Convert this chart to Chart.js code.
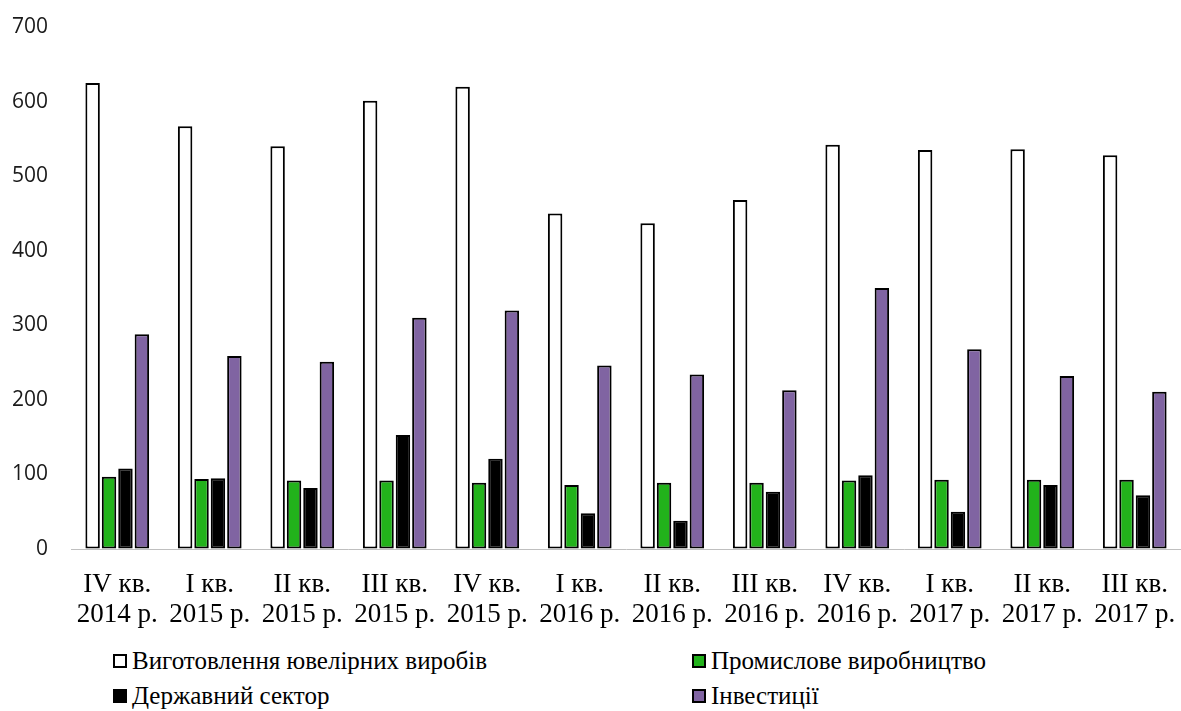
<!DOCTYPE html>
<html lang="uk">
<head>
<meta charset="utf-8">
<script src="https://cdn.jsdelivr.net/npm/chart.js@4"></script>
<style>
  html, body { margin: 0; padding: 0; background: #ffffff; }
  #wrap { position: relative; width: 1181px; height: 711px; }
  #box { position: absolute; left: 0; top: 0; width: 1181px; height: 630px; }
  #legend {
    position: absolute; left: 113px; top: 646px;
    display: grid; grid-template-columns: 579px auto; row-gap: 5px;
    font-family: "Liberation Serif", serif; font-size: 25px; color: #000;
  }
  .item { display: flex; align-items: center; height: 30px; white-space: nowrap; }
  .swatch { width: 10px; height: 10px; border: 2px solid #000; margin-right: 5px; }
</style>
</head>
<body>
<div id="wrap">
  <div id="box"><canvas id="chart"></canvas></div>
  <div id="legend"></div>
</div>
<script>
// Quarter labels (two lines each)
const quarters = [
  ["IV кв.", "2014 р."], ["I кв.", "2015 р."], ["II кв.", "2015 р."], ["III кв.", "2015 р."],
  ["IV кв.", "2015 р."], ["I кв.", "2016 р."], ["II кв.", "2016 р."], ["III кв.", "2016 р."],
  ["IV кв.", "2016 р."], ["I кв.", "2017 р."], ["II кв.", "2017 р."], ["III кв.", "2017 р."]
];

const seriesNames = [
  "Виготовлення ювелірних виробів",
  "Промислове виробництво",
  "Державний сектор",
  "Інвестиції"
];

// Demand by sector, per quarter
const jewellery  = [625, 567, 540, 601, 620, 450, 437, 468, 542, 535, 536, 528];
const industrial = [97, 94, 92, 92, 89, 86, 89, 89, 92, 93, 93, 93];
const government = [108, 95, 82, 153, 121, 48, 38, 77, 99, 50, 86, 72];
const investment = [288, 259, 251, 310, 320, 246, 234, 213, 350, 268, 232, 211];

const yTicks = [0, 100, 200, 300, 400, 500, 600, 700];

const fills = ["#ffffff", "#22b21b", "#000000", "#8064a2"];
const values = [jewellery, industrial, government, investment];

const datasets = values.map((v, i) => ({
  label: seriesNames[i],
  data: v,
  backgroundColor: fills[i],
  borderColor: "#000000",
  borderWidth: 2,
  borderSkipped: false,
  barPercentage: 0.88,
  categoryPercentage: 0.71
}));

const chart = new Chart(document.getElementById("chart"), {
  type: "bar",
  data: { labels: quarters, datasets },
  options: {
    responsive: true,
    maintainAspectRatio: false,
    animation: false,
    layout: { padding: { top: 27, right: 0, left: 0, bottom: 0 } },
    plugins: { legend: { display: false }, tooltip: { enabled: false } },
    scales: {
      x: {
        // invisible tick marks give the gap between the axis and the labels
        grid: { display: true, drawOnChartArea: false, drawTicks: true, tickLength: 21, tickColor: "rgba(0,0,0,0)" },
        border: { display: true, color: "#bfbfbf", width: 1 },
        ticks: {
          color: "#000000",
          padding: 0,
          maxRotation: 0,
          autoSkip: false,
          font: { family: "Liberation Serif", size: 27, lineHeight: 1.11 }
        }
      },
      y: {
        min: 0, max: 700,
        afterBuildTicks: (axis) => { axis.ticks = yTicks.map(v => ({ value: v })); },
        afterFit: (axis) => { axis.width = 71; },
        grid: { display: true, drawOnChartArea: false, drawTicks: true, tickLength: 23, tickColor: "rgba(0,0,0,0)" },
        border: { display: false },
        ticks: {
          color: "#1a1a1a",
          padding: 0,
          font: { family: "Open Sans", size: 21 }
        }
      }
    }
  }
});

// Two-column legend built from the datasets
const legend = document.getElementById("legend");
chart.data.datasets.forEach(ds => {
  const item = document.createElement("div");
  item.className = "item";
  const sw = document.createElement("span");
  sw.className = "swatch";
  sw.style.background = ds.backgroundColor;
  const tx = document.createElement("span");
  tx.textContent = ds.label;
  item.appendChild(sw);
  item.appendChild(tx);
  legend.appendChild(item);
});
</script>
</body>
</html>
